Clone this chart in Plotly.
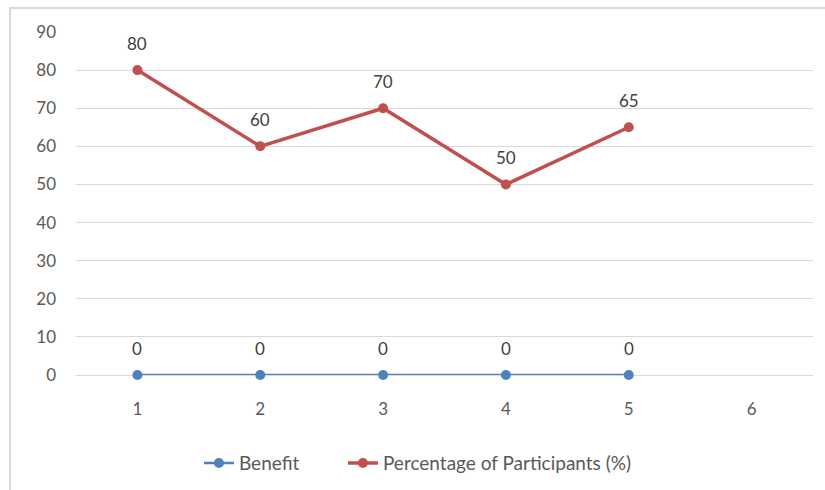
import plotly.graph_objects as go

categories = [1, 2, 3, 4, 5, 6]
benefit = [0, 0, 0, 0, 0]
participants = [80, 60, 70, 50, 65]
y_ticks = [0, 10, 20, 30, 40, 50, 60, 70, 80, 90]

BLUE = "#4F81BD"
RED = "#C0504D"
TEXT = "#595959"
FONT = "Lato"
SIZE = 17

fig = go.Figure()
fig.add_trace(go.Scatter(
    x=categories[:len(benefit)], y=benefit, name="Benefit",
    mode="lines+markers", line=dict(color=BLUE, width=2.5),
    marker=dict(size=10, color=BLUE), cliponaxis=False, legendwidth=99,
))
fig.add_trace(go.Scatter(
    x=categories[:len(participants)], y=participants,
    name="Percentage of Participants (%)",
    mode="lines+markers", line=dict(color=RED, width=3.5),
    marker=dict(size=10, color=RED), cliponaxis=False,
))

# value labels above each point
annotations = []
for series in (benefit, participants):
    for xi, v in zip(categories, series):
        annotations.append(dict(
            x=xi, y=v, xref="x", yref="y", text=str(v), showarrow=False,
            yshift=27, font=dict(family=FONT, size=SIZE, color="#404040"),
        ))

fig.update_layout(
    width=825, height=490,
    margin=dict(l=76, r=12, t=32, b=115, autoexpand=False),
    paper_bgcolor="white", plot_bgcolor="white",
    font=dict(family=FONT, size=SIZE, color=TEXT),
    showlegend=True,
    legend=dict(orientation="h", x=0.464, xanchor="center", y=-0.257,
                yanchor="middle", font=dict(family=FONT, size=19, color=TEXT),
                tracegroupgap=0),
    annotations=annotations,
    shapes=[dict(type="rect", xref="paper", yref="paper",
                 x0=-0.0895, x1=1.03, y0=-0.36, y1=1.07,
                 line=dict(color="#D9D9D9", width=2), layer="below")],
)
fig.update_xaxes(
    range=[0.5, 6.5], tickvals=categories, ticktext=[str(c) for c in categories],
    showgrid=False, zeroline=False, showline=False, ticks="", automargin=False,
    tickfont=dict(family=FONT, size=SIZE, color=TEXT), ticklabelstandoff=22,
)
fig.update_yaxes(
    range=[0, 90], tickvals=y_ticks, showgrid=True, gridcolor="#D9D9D9",
    gridwidth=1, zeroline=True, zerolinecolor="#D9D9D9", zerolinewidth=1,
    showline=False, ticks="", automargin=False,
    tickfont=dict(family=FONT, size=SIZE, color=TEXT),
    ticklabelstandoff=19,
)

fig.write_html("out.html")
